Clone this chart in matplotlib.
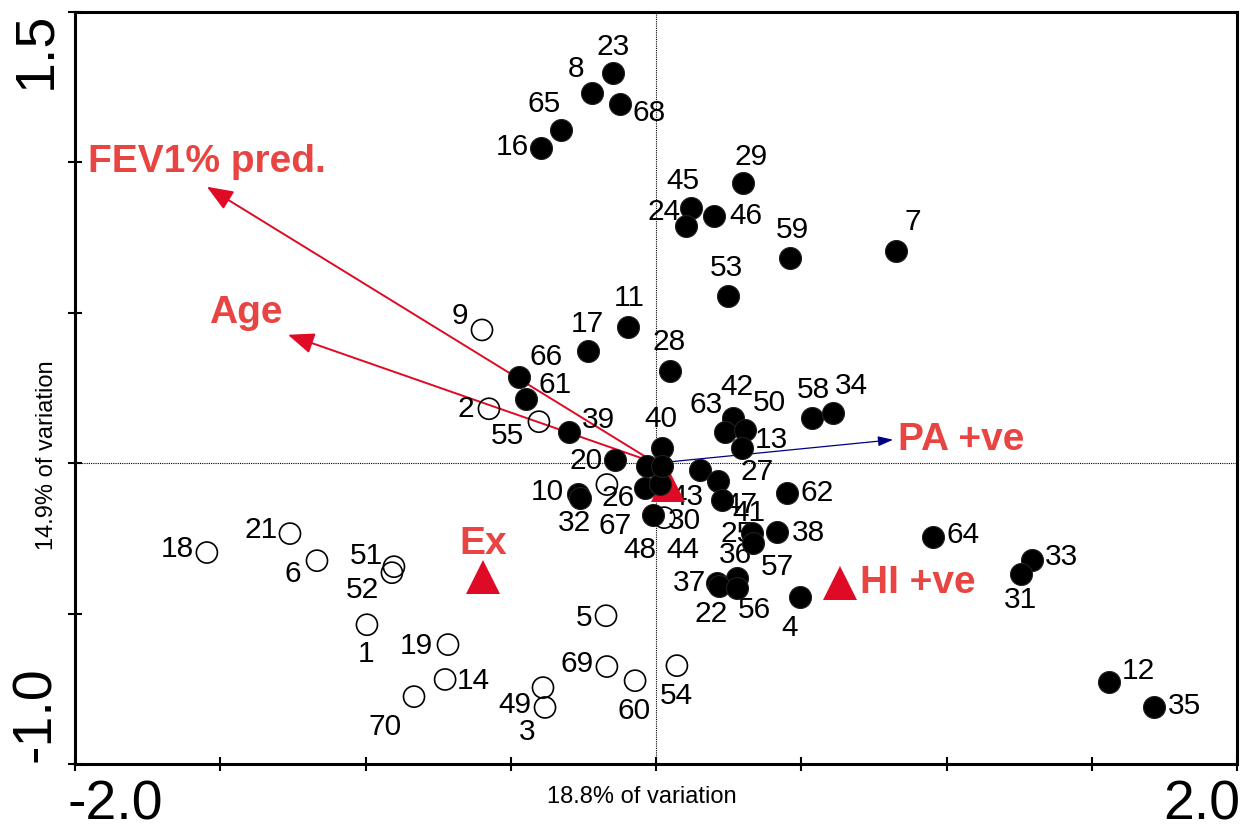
import numpy as np
import matplotlib.pyplot as plt

# sample scores (filled = one group, open = other)
filled_ids = [23, 8, 68, 65, 16, 29, 45, 24, 46, 59, 7, 53, 11, 17, 28, 66, 61, 39,
              42, 63, 50, 13, 58, 34, 40, 20, 10, 32, 67, 43, 15, 44, 48, 27, 47, 41,
              25, 57, 38, 62, 36, 37, 22, 56, 4, 64, 33, 31, 12, 35]
filled_x = [-0.148, -0.220, -0.124, -0.327, -0.396, 0.299, 0.120, 0.103, 0.200, 0.461,
            0.826, 0.248, -0.096, -0.234, 0.048, -0.472, -0.448, -0.299, 0.265, 0.238,
            0.306, 0.296, 0.537, 0.609, 0.021, -0.141, -0.268, -0.262, -0.038, 0.014,
            -0.031, 0.021, -0.010, 0.151, 0.213, 0.227, 0.330, 0.334, 0.417, 0.451,
            0.279, 0.210, 0.217, 0.279, 0.496, 0.954, 1.294, 1.256, 1.559, 1.714]
filled_y = [1.297, 1.231, 1.194, 1.108, 1.048, 0.932, 0.849, 0.789, 0.822, 0.683,
            0.706, 0.556, 0.453, 0.374, 0.307, 0.287, 0.214, 0.105, 0.151, 0.105,
            0.111, 0.051, 0.151, 0.168, 0.051, 0.012, -0.101, -0.115, -0.081, -0.068,
            -0.008, -0.008, -0.171, -0.022, -0.058, -0.121, -0.231, -0.264, -0.228, -0.098,
            -0.380, -0.397, -0.407, -0.414, -0.444, -0.244, -0.321, -0.370, -0.726, -0.809]

open_ids = [9, 2, 55, 18, 21, 6, 51, 52, 1, 19, 14, 70, 49, 3, 5, 69, 60, 54, 26, 30]
open_x = [-0.599, -0.575, -0.403, -1.546, -1.260, -1.167, -0.902, -0.909, -0.995, -0.716,
          -0.726, -0.833, -0.389, -0.382, -0.172, -0.169, -0.072, 0.072, -0.169, 0.028]
open_y = [0.443, 0.181, 0.138, -0.297, -0.234, -0.324, -0.344, -0.364, -0.537, -0.603,
          -0.719, -0.776, -0.746, -0.812, -0.507, -0.676, -0.723, -0.673, -0.071, -0.181]

# environmental variables
arrow_names = ["FEV1% pred.", "Age", "PA +ve"]
arrow_x = [-1.546, -1.267, 0.816]
arrow_y = [0.919, 0.427, 0.078]

centroid_names = ["Ex", "HI +ve", ""]
centroid_x = [-0.596, 0.633, 0.041]
centroid_y = [-0.377, -0.397, -0.071]

# label placement (pixels, relative to the point)
label_off = {
    23: (0, 26), 8: (-16, 24), 68: (29, -9), 65: (-17, 26), 16: (-29, 1),
    29: (8, 26), 45: (-8, 27), 24: (-22, 14), 46: (32, 0), 59: (2, 28),
    7: (17, 29), 53: (-2, 28), 11: (1, 29), 17: (-1, 27), 28: (-1, 29),
    66: (27, 20), 61: (29, 14), 39: (29, 12), 42: (4, 31), 63: (-19, 27),
    50: (24, 27), 13: (29, 8), 58: (1, 28), 34: (19, 27), 40: (-1, 29),
    20: (-29, -1), 10: (-31, 2), 32: (-5, -25), 67: (-30, -38), 43: (27, -13),
    44: (21, -84), 48: (-13, -35), 27: (57, -2), 47: (23, -24), 41: (27, -13),
    25: (-15, -1), 57: (24, -24), 38: (31, -1), 62: (30, 0), 36: (-2, 23),
    37: (-28, 0), 22: (-8, -28), 56: (17, -22), 4: (-10, -31), 64: (30, 2),
    33: (30, 3), 31: (0, -26), 12: (29, 11), 35: (31, 1),
    9: (-22, 14), 2: (-23, 0), 55: (-31, -14), 18: (-30, 4), 21: (-29, 4),
    6: (-24, -13), 51: (-28, 11), 52: (-29, -17), 1: (-1, -29), 19: (-32, -1),
    14: (28, -2), 70: (-29, -30), 49: (-28, -17), 3: (-18, -25), 5: (-22, -2),
    69: (-30, 3), 60: (-1, -30), 54: (-1, -30), 26: (11, -13), 30: (20, -3),
}

red = '#DE0A26'
txt_red = '#E84442'
plt.rcParams['font.family'] = ['Liberation Sans', 'DejaVu Sans']

fig = plt.figure(figsize=(12.45, 8.31), dpi=100)
ax = fig.add_axes([75 / 1245, 1 - 764 / 831, (1237 - 75) / 1245, (764 - 12) / 831])
ax.set_xlim(-2.0, 2.0)
ax.set_ylim(-1.0, 1.5)

ax.axhline(0, color='black', lw=0.8, ls=(0, (1, 1)), zorder=1)
ax.axvline(0, color='black', lw=0.8, ls=(0, (1, 1)), zorder=1)

# labels under the points
for ids, xs, ys in [(filled_ids, filled_x, filled_y), (open_ids, open_x, open_y)]:
    for i, x, y in zip(ids, xs, ys):
        if i in label_off:
            ax.annotate(str(i), (x, y), xytext=label_off[i], textcoords='offset pixels',
                        ha='center', va='center', fontsize=21.5, zorder=3)

ax.scatter(filled_x, filled_y, s=250, c='black', edgecolors='#202020', linewidths=0.8, zorder=4)
ax.scatter(open_x, open_y, s=230, facecolors='none', edgecolors='black', linewidths=1.2, zorder=4)

# arrows
for name, x, y in zip(arrow_names, arrow_x, arrow_y):
    if name == "PA +ve":
        ax.annotate('', xy=(x, y), xytext=(0, 0),
                    arrowprops=dict(arrowstyle='-|>,head_length=0.9,head_width=0.3',
                                    mutation_scale=10, color='#000080', lw=0.9,
                                    shrinkA=0, shrinkB=0), zorder=2)
    else:
        ax.annotate('', xy=(x, y), xytext=(0, 0),
                    arrowprops=dict(arrowstyle='-|>,head_length=1.0,head_width=0.4',
                                    mutation_scale=16, color=red, lw=1.4,
                                    shrinkA=0, shrinkB=0), zorder=2)

ax.text(-1.546, 1.0, "FEV1% pred.", color=txt_red, fontsize=28, fontweight='bold',
        ha='center', va='center', zorder=5)
ax.text(-1.411, 0.50, "Age", color=txt_red, fontsize=28, fontweight='bold',
        ha='center', va='center', zorder=5)
ax.text(0.833, 0.078, "PA +ve", color=txt_red, fontsize=28, fontweight='bold',
        ha='left', va='center', zorder=5)

ax.plot(centroid_x, centroid_y, ls='none', marker='^', markersize=25, color=red,
        markeredgewidth=0, zorder=3.5)
ax.text(centroid_x[0], centroid_y[0] + 0.11, centroid_names[0], color=txt_red, fontsize=28,
        fontweight='bold', ha='center', va='center', zorder=5)
ax.text(centroid_x[1] + 0.07, centroid_y[1], centroid_names[1], color=txt_red, fontsize=28,
        fontweight='bold', ha='left', va='center', zorder=5)

# frame and ticks
for sp in ax.spines.values():
    sp.set_linewidth(2.2)
ax.set_xticks(np.arange(-2.0, 2.01, 0.5))
ax.set_yticks(np.arange(-1.0, 1.51, 0.5))
ax.set_xticklabels([])
ax.set_yticklabels([])
ax.tick_params(direction='inout', length=10, width=1.5, top=False, right=False)

fig.text(68 / 1245, 1 - 805 / 831, "-2.0", fontsize=40, ha='left', va='center')
fig.text(1240 / 1245, 1 - 805 / 831, "2.0", fontsize=40, ha='right', va='center')
fig.text(36 / 1245, 1 - 12 / 831, "1.5", fontsize=40, rotation=90, ha='center', va='top')
fig.text(36 / 1245, 1 - 762 / 831, "-1.0", fontsize=40, rotation=90, ha='center', va='bottom')

fig.text(642 / 1245, 1 - 797 / 831, "18.8% of variation", fontsize=17,
         ha='center', va='center')
fig.text(47 / 1245, 1 - 455 / 831, "14.9% of variation", fontsize=17,
         rotation=90, ha='center', va='center')

fig.savefig('out.png', dpi=100)
